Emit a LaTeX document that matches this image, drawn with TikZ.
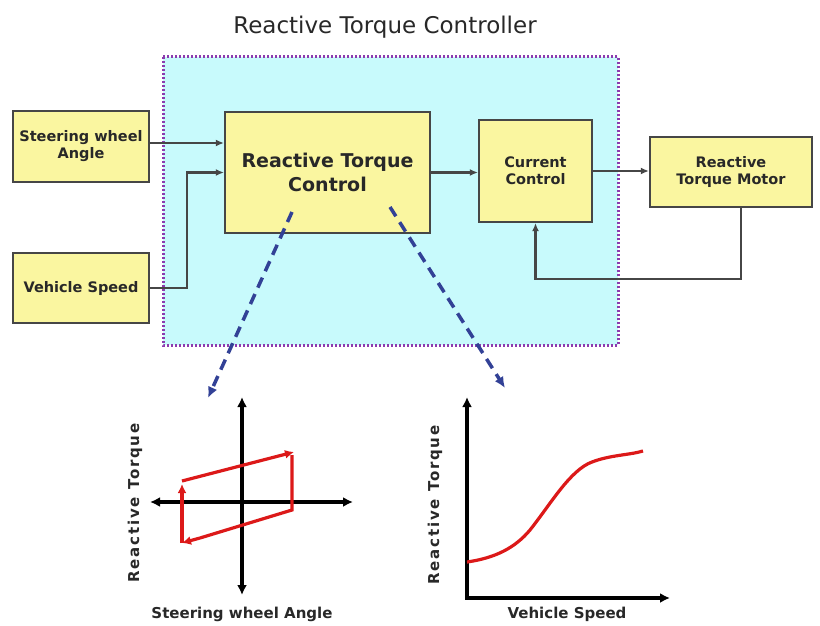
\documentclass[tikz,border=0pt]{standalone}
\usepackage{fontspec}
\setmainfont{DejaVu Sans}
\usetikzlibrary{arrows.meta,calc}
\definecolor{boxfill}{RGB}{250,246,160}
\definecolor{boxdraw}{RGB}{70,70,70}
\definecolor{cyanfill}{RGB}{200,250,252}
\definecolor{dotpurple}{RGB}{140,60,175}
\definecolor{dashblue}{RGB}{50,65,150}
\definecolor{curvered}{RGB}{220,25,25}
\definecolor{txt}{RGB}{40,40,40}
\tikzset{
  blk/.style={draw=boxdraw, fill=boxfill, line width=2.2pt, inner sep=0pt, align=center, text=txt, font=\bfseries\fontsize{14.5}{17}\selectfont},
  conn/.style={draw=boxdraw, line width=2.2pt, -{Latex[length=8pt,width=7pt]}},
  dasharrow/.style={draw=dashblue, line width=3.5pt, dash pattern=on 11pt off 7pt, -{Latex[length=11pt,width=10pt]}},
  axis/.style={draw=black, line width=3.4pt},
  redline/.style={draw=curvered, line width=3.2pt},
  axlabel/.style={text=txt, font=\bfseries\fontsize{15}{17}\selectfont}
}
\begin{document}
\begin{tikzpicture}[x=1pt,y=-1pt]
\useasboundingbox (0,0) rectangle (820,626);
% title
\node[text=txt, font=\fontsize{23}{26}\selectfont] (title) at (385,27) {Reactive Torque Controller};
% controller area
\draw[fill=cyanfill, draw=dotpurple, line width=3pt, dash pattern=on 2pt off 2pt] (163,57) rectangle (618,345);
% blocks
\node[blk, minimum width=136, minimum height=71] (sw) at (81,146.5) {Steering wheel\\Angle};
\node[blk, minimum width=136, minimum height=70] (vs) at (81,288) {Vehicle Speed};
\node[blk, minimum width=205, minimum height=121, font=\bfseries\fontsize{19}{24}\selectfont] (rtc) at (327.5,172.5) {Reactive Torque\\Control};
\node[blk, minimum width=113, minimum height=102] (cc) at (535.5,171) {Current\\Control};
\node[blk, minimum width=162, minimum height=70] (mot) at (731,172) {Reactive\\Torque Motor};
% connectors
\draw[conn] ([yshift=3.5pt]sw.east) -- ([yshift=3.5pt]sw.east -| rtc.west);
\draw[conn] (vs.east) -- ++(37,0) |- (rtc.west);
\draw[conn] (rtc.east) -- (rtc.east -| cc.west);
\draw[conn] (cc.east) -- (cc.east -| mot.west);
\draw[conn] ([xshift=10pt]mot.south) -- ++(0,71) -| (cc.south);
% dashed arrows
\coordinate (d1s) at (292,212);
\coordinate (d1e) at (208,398);
\coordinate (d2s) at (390,207);
\coordinate (d2e) at (505,388);
\draw[dasharrow] (d1s) -- (d1e);
\draw[dasharrow] (d2s) -- (d2e);
% left graph
\draw[axis, {Latex[length=10pt,width=10pt]}-{Latex[length=10pt,width=10pt]}] (150,502) -- (353,502);
\draw[axis, {Latex[length=10pt,width=10pt]}-{Latex[length=10pt,width=10pt]}] (242,397) -- (242,595);
\draw[redline, -{Latex[length=9pt,width=9pt]}] (182,481) -- (294,452);
\draw[redline] (292,455) -- (292,510) -- (200,538);
\draw[redline, -{Latex[length=9pt,width=9pt]}] (200,538) -- (182,543);
\draw[redline, -{Latex[length=9pt,width=9pt]}] (182,543) -- (182,484);
\node[axlabel, rotate=90, font=\bfseries\fontsize{15}{17}\selectfont\addfontfeature{LetterSpace=12}] (yl1) at (135,503) {Reactive Torque};
\node[axlabel] (xl1) at (242,614) {Steering wheel Angle};
% right graph
\draw[axis, {Latex[length=10pt,width=10pt]}-{Latex[length=10pt,width=10pt]}] (467,397) -- (467,598) -- (670,598);
\draw[redline] (467,562) .. controls (495,558) and (515,548) .. (530,530)
  .. controls (550,505) and (570,470) .. (592,462)
  .. controls (610,455) and (630,455) .. (643,451);
\node[axlabel, rotate=90, font=\bfseries\fontsize{15}{17}\selectfont\addfontfeature{LetterSpace=12}] (yl2) at (435,505) {Reactive Torque};
\node[axlabel] (xl2) at (567,614) {Vehicle Speed};
\end{tikzpicture}
\end{document}
